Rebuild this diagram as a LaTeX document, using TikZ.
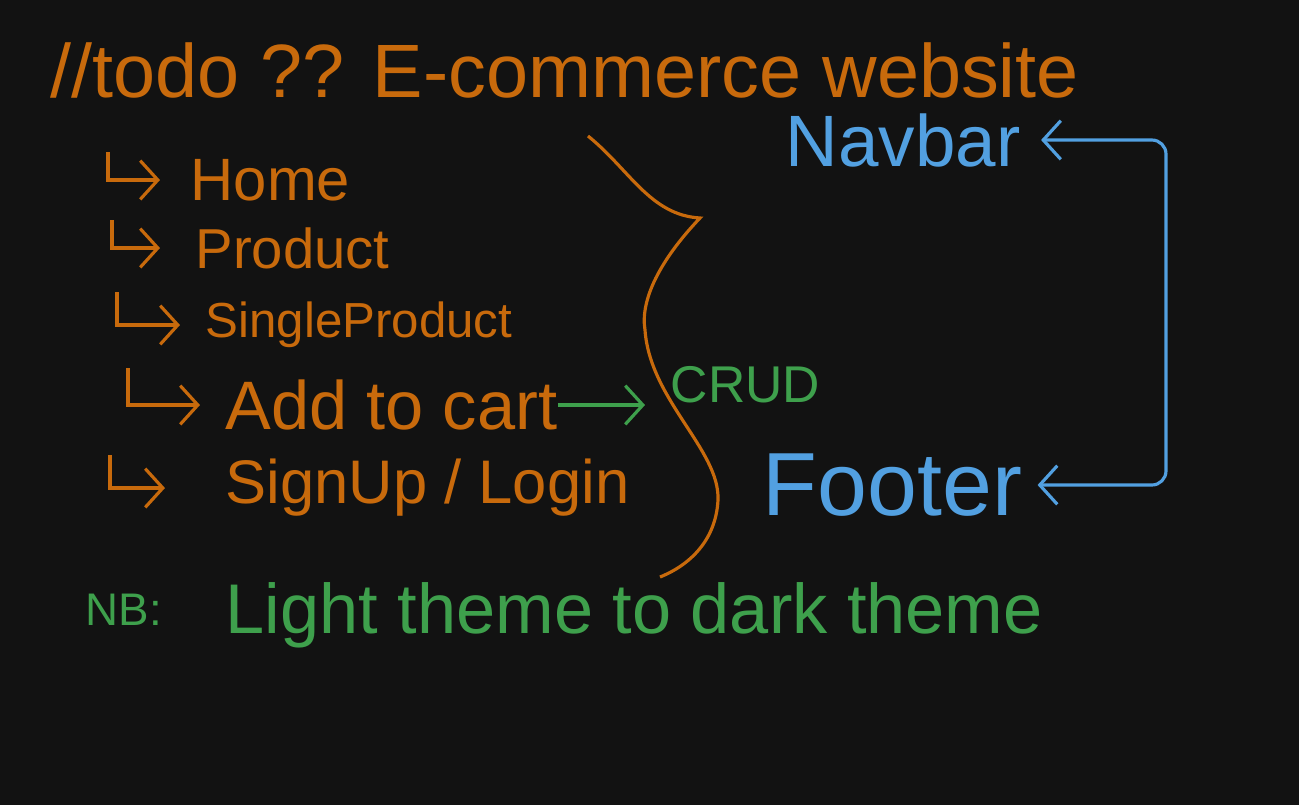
\documentclass[tikz,border=0pt]{standalone}
\usepackage{fontspec}
\setmainfont{Liberation Sans}
\usetikzlibrary{arrows.meta}

\definecolor{boarddark}{RGB}{18,18,18}
\definecolor{penorange}{RGB}{200,106,12}
\definecolor{penblue}{RGB}{82,160,225}
\definecolor{pengreen}{RGB}{62,160,76}
\newcommand{\handsize}[1]{\fontsize{#1}{1.2\dimexpr#1\relax}\selectfont}

\begin{document}
\begin{tikzpicture}[x=0.01cm,y=-0.01cm,>={Straight Barb[length=5pt,width=11pt]},
  ink/.style={inner sep=0pt,anchor=west},
  orange ink/.style={ink,text=penorange},
  lnk/.style={draw=penorange,line width=0.9pt,->},
  blue lnk/.style={draw=penblue,line width=0.9pt,<->,rounded corners=4pt,shorten >=0.15cm,shorten <=0.2cm}]
\fill[boarddark] (0,0) rectangle (1299,805);
\useasboundingbox (0,0) rectangle (1299,805);

\node[orange ink,font=\handsize{21.5pt}] (title) at (50,70) {//todo ?? E-commerce website};

% pages
\node[orange ink,font=\handsize{17pt}] (home) at (190,180) {Home};
\node[orange ink,font=\handsize{16pt}] (product) at (195,248) {Product};
\node[orange ink,font=\handsize{14pt}] (single) at (205,325) {SingleProduct};
\node[orange ink,font=\handsize{19.5pt}] (cart) at (225,405) {Add to cart};
\node[orange ink,font=\handsize{17.5pt}] (signup) at (225,488) {SignUp / Login};
\foreach \n/\cx/\cy/\gap in {home/108/152/0.3,product/112/220/0.35,single/117/292/0.25,cart/128/368/0.25,signup/110/455/0.6}{
  \coordinate (\n-top) at (\cx,\cy);
  \draw[lnk,shorten >=\gap cm] (\n-top) |- (\n.west);
}

% brace
\draw[penorange,line width=0.9pt] (588,136) .. controls (630,170) and (650,215) .. (700,218)
  .. controls (660,260) and (640,300) .. (645,330)
  .. controls (650,400) and (720,450) .. (718,500)
  .. controls (716,540) and (690,565) .. (660,577);

\node[ink,text=pengreen,font=\handsize{14.7pt}] (crud) at (670,385) {CRUD};
\draw[pengreen,line width=0.9pt,->,shorten >=0.25cm] (cart.east) -- (crud.west |- cart.east);

% layout
\node[ink,text=penblue,font=\handsize{20.7pt}] (navbar) at (785,140) {Navbar};
\node[ink,text=penblue,font=\handsize{25.5pt}] (footer) at (762,485) {Footer};
\coordinate (loop) at (1166,130);
\draw[blue lnk] (navbar.east) -- (navbar.east -| loop) |- (footer.east);

\node[ink,text=pengreen,font=\handsize{13pt}] (nb) at (85,610) {NB:};
\node[ink,text=pengreen,font=\handsize{20pt}] (theme) at (225,615) {Light theme to dark theme};
\end{tikzpicture}
\end{document}
